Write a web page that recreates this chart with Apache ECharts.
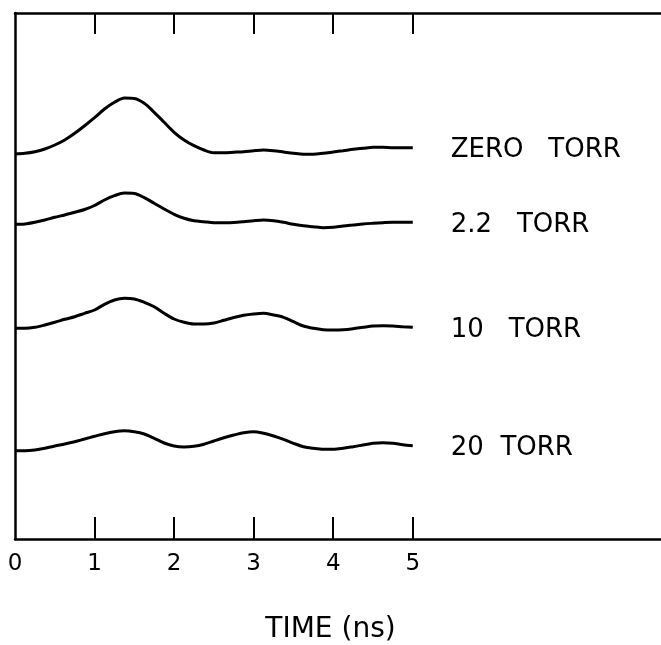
<!DOCTYPE html>
<html>
<head>
<meta charset="utf-8">
<script src="https://cdn.jsdelivr.net/npm/echarts@6/dist/echarts.min.js"></script>
<style>html,body{margin:0;padding:0;background:#fff;}#c{width:661px;height:645px;}</style>
</head>
<body>
<div id="c"></div>
<script>
// Time axis (ns), sampled every 0.125 ns
const times = [0,0.125,0.25,0.375,0.5,0.625,0.75,0.875,1,1.125,1.25,1.375,1.5,1.625,1.75,1.875,2,2.125,2.25,2.375,2.5,2.625,2.75,2.875,3,3.125,3.25,3.375,3.5,3.625,3.75,3.875,4,4.125,4.25,4.375,4.5,4.625,4.75,4.875,5];
const tickLabels = [0,1,2,3,4,5];
const tickMarks = [1,2,3,4,5];
// Signal traces (arbitrary units, vertically offset as in the original figure)
const zeroTorr = [385,385.7,387.3,390,394,399,405.7,413.3,421.3,430,436.7,441,440.5,435.7,426.7,416.7,406.7,399,393.3,389,386.3,386.3,386.8,387.3,388.3,389,388.3,387,385.7,384.7,384.7,385.7,387,388.3,389.7,390.7,391.7,391.7,391.3,391.3,391.3];
const torr2_2 = [314.7,315,316.7,319,321.7,324,326.7,329.5,333.5,339,343.3,345.9,345.5,341.3,335.7,330,324.7,320.7,318.3,317.3,316.3,316.3,316.5,317.3,318.3,319,318.3,316.7,314.7,313.3,312.3,311.3,311.7,313,314,315,315.7,316.3,316.7,316.7,316.7];
const torr10 = [210.7,210.7,211.7,214,216.7,219.7,222.3,225.7,229,234.7,239,240.7,240,236.7,232.3,225.7,220,216.7,215,215,216,218.7,221.5,223.7,225,225.7,224,221.7,217.3,213,210.7,209.3,209,209.3,210.3,211.7,213,213.3,213,212.3,211.7];
const torr20 = [88.3,88.3,89,90.7,93,95,97.3,100,102.7,105.3,107.3,108.3,107.3,105,100.7,96,93,92,92.7,94.7,98,101.2,104,106.3,107.3,105.7,103,99.7,95.7,92.3,90.7,89.7,89.7,90.7,92.3,94,95.7,96.3,95.7,94.3,93.3];
const seriesNames = ['ZERO   TORR','2.2   TORR','10   TORR','20  TORR'];
const seriesData = [zeroTorr, torr2_2, torr10, torr20];

const font = 'DejaVu Sans';
const chart = echarts.init(document.getElementById('c'));
chart.setOption({
  animation: false,
  backgroundColor: '#fff',
  grid: {left: 15, right: 0, top: 13, bottom: 106, containLabel: false, outerBoundsMode: 'none'},
  xAxis: [{
    type: 'value', min: 0, max: 8.12, position: 'bottom',
    splitLine: {show: false},
    axisLine: {lineStyle: {color: '#000', width: 2.5}},
    axisTick: {show: true, inside: true, length: 22, customValues: tickMarks, lineStyle: {color: '#000', width: 2}},
    axisLabel: {customValues: tickLabels, color: '#000', fontSize: 23, fontFamily: font, margin: 14},
    name: 'TIME (ns)', nameLocation: 'middle', nameGap: 77,
    nameTextStyle: {color: '#000', fontSize: 28, fontFamily: font, padding: [0, 15, 0, 0]}
  }, {
    type: 'value', min: 0, max: 8.12, position: 'top',
    splitLine: {show: false},
    axisLine: {show: true, lineStyle: {color: '#000', width: 2.5}},
    axisTick: {show: true, inside: true, length: 21, customValues: tickMarks, lineStyle: {color: '#000', width: 2}},
    axisLabel: {show: false}
  }],
  yAxis: {
    type: 'value', min: 0, max: 526,
    splitLine: {show: false},
    axisLine: {show: true, lineStyle: {color: '#000', width: 2.5}},
    axisTick: {show: false},
    axisLabel: {show: false}
  },
  series: seriesData.map((d, i) => ({
    type: 'line',
    name: seriesNames[i],
    data: times.map((t, j) => [t, d[j]]),
    smooth: 0.3,
    showSymbol: false,
    lineStyle: {color: '#000', width: 3},
    endLabel: {
      show: true, formatter: '{a}', distance: 38,
      color: '#000', fontSize: 26, fontFamily: font, offset: [0, 3]
    }
  }))
});
</script>
</body>
</html>
